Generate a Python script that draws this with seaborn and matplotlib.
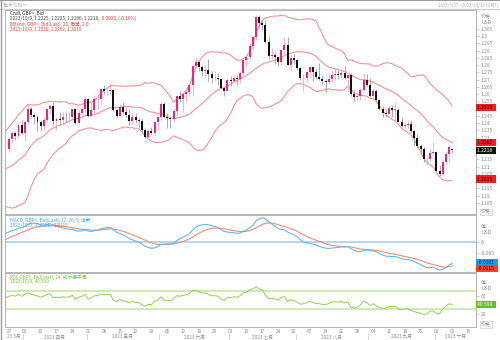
import numpy as np
import pandas as pd
import matplotlib
matplotlib.use("Agg")
import matplotlib.pyplot as plt
import matplotlib.transforms as mtransforms
from matplotlib.lines import Line2D
from matplotlib.patches import Rectangle
import seaborn as sns

# ---------------- data ----------------
# closes before the visible window (Jan 2 - Mar 24 2023), used only to warm up the indicators
warmup_closes = [
    1.2055, 1.1965, 1.2055, 1.1935, 1.2090,
    1.2180, 1.2155, 1.2150, 1.2215, 1.2230,
    1.2205, 1.2280, 1.2350, 1.2390, 1.2395,
    1.2365, 1.2325, 1.2410, 1.2400, 1.2395,
    1.2375, 1.2320, 1.2415, 1.2235, 1.2050,
    1.2025, 1.2045, 1.2065, 1.2120, 1.2110,
    1.2135, 1.2175, 1.2035, 1.1990, 1.2035,
    1.2045, 1.2110, 1.2045, 1.1985, 1.1945,
    1.2065, 1.2095, 1.2020, 1.1945, 1.2035,
    1.2015, 1.1825, 1.1840, 1.1940, 1.2030,
    1.2175, 1.2155, 1.2055, 1.2105, 1.2175,
    1.2225, 1.2235, 1.2275, 1.2280, 1.2230,
]

# visible daily candles, Mar 27 - Oct 9 2023 (one row per week)
opens = [
    1.2225, 1.2290, 1.2330, 1.2310, 1.2390,
    1.2335, 1.2410, 1.2500, 1.2455, 1.2440,
    1.2410, 1.2380, 1.2425, 1.2495, 1.2520,
    1.2415, 1.2430, 1.2425, 1.2445, 1.2440,
    1.2445, 1.2495, 1.2405, 1.2470, 1.2495,
    1.2570, 1.2450, 1.2490, 1.2565, 1.2570,
    1.2635, 1.2620, 1.2625, 1.2630, 1.2490,
    1.2450, 1.2510, 1.2480, 1.2455, 1.2415,
    1.2445, 1.2420, 1.2415, 1.2350, 1.2305,
    1.2345, 1.2335, 1.2410, 1.2440, 1.2535,
    1.2445, 1.2435, 1.2430, 1.2485, 1.2585,
    1.2570, 1.2605, 1.2615, 1.2665, 1.2795,
    1.2820, 1.2785, 1.2760, 1.2765, 1.2740,
    1.2710, 1.2715, 1.2705, 1.2640, 1.2620,
    1.2700, 1.2690, 1.2715, 1.2705, 1.2745,
    1.2835, 1.2860, 1.2935, 1.2995, 1.3135,
    1.3090, 1.3075, 1.2960, 1.2865, 1.2870,
    1.2855, 1.2825, 1.2905, 1.2940, 1.2805,
    1.2850, 1.2835, 1.2780, 1.2710, 1.2715,
    1.2750, 1.2785, 1.2750, 1.2720, 1.2705,
    1.2690, 1.2685, 1.2705, 1.2735, 1.2740,
    1.2735, 1.2745, 1.2715, 1.2730, 1.2605,
    1.2580, 1.2590, 1.2630, 1.2700, 1.2665,
    1.2585, 1.2625, 1.2560, 1.2500, 1.2470,
    1.2465, 1.2505, 1.2490, 1.2490, 1.2410,
    1.2380, 1.2390, 1.2395, 1.2345, 1.2295,
    1.2240, 1.2225, 1.2150, 1.2155, 1.2195,
    1.2200, 1.2070, 1.2050, 1.2130, 1.2190,
    1.2225,
]
highs = [
    1.2305, 1.2345, 1.2345, 1.2395, 1.2425,
    1.2420, 1.2525, 1.2510, 1.2470, 1.2455,
    1.2420, 1.2440, 1.2500, 1.2525, 1.2545,
    1.2440, 1.2475, 1.2475, 1.2475, 1.2475,
    1.2500, 1.2500, 1.2495, 1.2510, 1.2585,
    1.2575, 1.2545, 1.2595, 1.2600, 1.2645,
    1.2665, 1.2650, 1.2680, 1.2635, 1.2500,
    1.2530, 1.2545, 1.2505, 1.2495, 1.2470,
    1.2470, 1.2445, 1.2435, 1.2365, 1.2370,
    1.2375, 1.2415, 1.2445, 1.2545, 1.2545,
    1.2470, 1.2445, 1.2495, 1.2590, 1.2625,
    1.2610, 1.2640, 1.2675, 1.2800, 1.2850,
    1.2830, 1.2800, 1.2800, 1.2845, 1.2760,
    1.2760, 1.2745, 1.2710, 1.2660, 1.2710,
    1.2725, 1.2730, 1.2740, 1.2760, 1.2850,
    1.2875, 1.2950, 1.3000, 1.3145, 1.3145,
    1.3115, 1.3115, 1.3005, 1.2920, 1.2890,
    1.2860, 1.2915, 1.2995, 1.2995, 1.2875,
    1.2875, 1.2840, 1.2790, 1.2740, 1.2760,
    1.2790, 1.2790, 1.2775, 1.2815, 1.2730,
    1.2705, 1.2735, 1.2765, 1.2785, 1.2765,
    1.2760, 1.2795, 1.2730, 1.2745, 1.2630,
    1.2610, 1.2640, 1.2745, 1.2740, 1.2710,
    1.2645, 1.2635, 1.2570, 1.2520, 1.2495,
    1.2525, 1.2525, 1.2545, 1.2505, 1.2440,
    1.2405, 1.2425, 1.2425, 1.2350, 1.2325,
    1.2255, 1.2235, 1.2170, 1.2225, 1.2270,
    1.2210, 1.2110, 1.2150, 1.2210, 1.2260,
    1.2225,
]
lows = [
    1.2205, 1.2265, 1.2285, 1.2300, 1.2325,
    1.2275, 1.2395, 1.2440, 1.2395, 1.2345,
    1.2345, 1.2355, 1.2410, 1.2465, 1.2385,
    1.2350, 1.2385, 1.2390, 1.2410, 1.2400,
    1.2420, 1.2395, 1.2395, 1.2435, 1.2475,
    1.2440, 1.2450, 1.2465, 1.2500, 1.2530,
    1.2605, 1.2595, 1.2600, 1.2485, 1.2445,
    1.2440, 1.2465, 1.2440, 1.2390, 1.2395,
    1.2405, 1.2375, 1.2335, 1.2300, 1.2295,
    1.2325, 1.2310, 1.2350, 1.2425, 1.2435,
    1.2370, 1.2370, 1.2410, 1.2440, 1.2545,
    1.2480, 1.2545, 1.2590, 1.2590, 1.2780,
    1.2760, 1.2725, 1.2710, 1.2690, 1.2680,
    1.2690, 1.2665, 1.2635, 1.2590, 1.2620,
    1.2655, 1.2685, 1.2665, 1.2675, 1.2730,
    1.2790, 1.2840, 1.2905, 1.2975, 1.3060,
    1.3045, 1.2955, 1.2845, 1.2840, 1.2810,
    1.2795, 1.2805, 1.2870, 1.2800, 1.2760,
    1.2810, 1.2770, 1.2700, 1.2620, 1.2690,
    1.2720, 1.2690, 1.2705, 1.2695, 1.2665,
    1.2615, 1.2670, 1.2685, 1.2700, 1.2705,
    1.2705, 1.2705, 1.2615, 1.2590, 1.2550,
    1.2560, 1.2560, 1.2620, 1.2655, 1.2580,
    1.2580, 1.2545, 1.2490, 1.2445, 1.2445,
    1.2465, 1.2445, 1.2425, 1.2410, 1.2375,
    1.2365, 1.2365, 1.2335, 1.2240, 1.2230,
    1.2190, 1.2135, 1.2110, 1.2140, 1.2190,
    1.2070, 1.2035, 1.2035, 1.2120, 1.2125,
    1.2196,
]
closes = [
    1.2290, 1.2330, 1.2310, 1.2390, 1.2335,
    1.2410, 1.2500, 1.2455, 1.2440, 1.2410,
    1.2380, 1.2425, 1.2495, 1.2520, 1.2415,
    1.2430, 1.2425, 1.2445, 1.2440, 1.2445,
    1.2495, 1.2405, 1.2470, 1.2495, 1.2570,
    1.2450, 1.2490, 1.2565, 1.2570, 1.2635,
    1.2620, 1.2625, 1.2630, 1.2490, 1.2450,
    1.2510, 1.2480, 1.2455, 1.2415, 1.2445,
    1.2420, 1.2415, 1.2350, 1.2305, 1.2345,
    1.2335, 1.2410, 1.2440, 1.2535, 1.2445,
    1.2435, 1.2430, 1.2485, 1.2585, 1.2570,
    1.2605, 1.2615, 1.2665, 1.2795, 1.2820,
    1.2785, 1.2760, 1.2765, 1.2740, 1.2710,
    1.2715, 1.2705, 1.2640, 1.2620, 1.2700,
    1.2690, 1.2715, 1.2705, 1.2745, 1.2835,
    1.2860, 1.2935, 1.2995, 1.3135, 1.3090,
    1.3075, 1.2960, 1.2865, 1.2870, 1.2855,
    1.2825, 1.2905, 1.2940, 1.2805, 1.2850,
    1.2835, 1.2780, 1.2710, 1.2715, 1.2750,
    1.2785, 1.2750, 1.2720, 1.2705, 1.2690,
    1.2685, 1.2705, 1.2735, 1.2740, 1.2735,
    1.2745, 1.2715, 1.2730, 1.2605, 1.2580,
    1.2590, 1.2630, 1.2700, 1.2665, 1.2585,
    1.2625, 1.2560, 1.2500, 1.2470, 1.2465,
    1.2505, 1.2490, 1.2495, 1.2410, 1.2380,
    1.2390, 1.2395, 1.2345, 1.2295, 1.2240,
    1.2225, 1.2150, 1.2155, 1.2195, 1.2200,
    1.2070, 1.2050, 1.2130, 1.2190, 1.2238,
    1.2218,
]

# price tick labels shown on the right (those hidden behind value boxes are left out)
price_ticks = [1.185, 1.19, 1.195, 1.205, 1.21, 1.215, 1.23,
               1.235, 1.24, 1.245, 1.255, 1.26, 1.265, 1.27, 1.275, 1.28,
               1.285, 1.29, 1.295, 1.3, 1.305]
macd_ticks = [-0.005, 0]
rsi_ticks = [20, 60]
rsi_levels = [70, 30]
week_labels = ["27", "03", "10", "17", "24", "01", "08", "15", "22", "29",
               "05", "12", "19", "26", "03", "10", "17", "24", "31", "07",
               "14", "21", "28", "04", "11", "18", "25", "02", "09", "16"]
month_labels = ["23 3月", "2023 四月", "2023 五月", "2023 六月",
                "2023 七月", "2023 八月", "2023 九月", "2023 十月"]
band_last = [1.2510, 1.2262, 1.2015]
band_last_txt = ["1.2510", "1.2262", "1.2015"]
close_last_txt = "1.2218"
macd_last = [-0.0101, -0.0115]
macd_last_txt = ["-0.0101", "-0.0115"]
rsi_last = 40.599
rsi_last_txt = "40.599"

# ---------------- indicators ----------------
all_close = pd.Series(warmup_closes + closes)
n_w = len(warmup_closes)
mid = all_close.rolling(20).mean()
sd = all_close.rolling(20).std(ddof=0)
ema12 = all_close.ewm(span=12, adjust=False).mean()
ema26 = all_close.ewm(span=26, adjust=False).mean()
macd = ema12 - ema26
signal = macd.ewm(span=9, adjust=False).mean()
delta = all_close.diff()
ag = delta.clip(lower=0).ewm(alpha=1 / 14, adjust=False).mean()
al = (-delta).clip(lower=0).ewm(alpha=1 / 14, adjust=False).mean()
rsi = 100 - 100 / (1 + ag / al)
ind = pd.DataFrame({
    "x": np.arange(len(all_close)) - n_w,
    "upper": mid + 2 * sd, "mid": mid, "lower": mid - 2 * sd,
    "macd": macd, "signal": signal, "rsi": rsi,
})
ind = ind[ind["x"] >= -2]

# ---------------- figure ----------------
sns.set_theme(style="white")
plt.rcParams["font.family"] = ["Noto Sans CJK SC", "DejaVu Sans"]
plt.rcParams["axes.unicode_minus"] = False

W, H = 500, 340
fig = plt.figure(figsize=(5, 3.4), dpi=100)
fig.patch.set_facecolor("white")


def fx(x):
    return x / W


def fy(y):
    return 1 - y / H


def add_axes(x0, y0, x1, y1):
    return fig.add_axes([fx(x0), fy(y1), fx(x1) - fx(x0), fy(y0) - fy(y1)])


ax = add_axes(5, 10, 476, 214)
axm = add_axes(5, 215, 476, 272)
axr = add_axes(5, 273, 476, 327)

XMIN, XMAX = -1.26, 147.5
LBL = "#8a8a8a"
FS = 3.6

for a in (ax, axm, axr):
    a.set_xlim(XMIN, XMAX)
    a.set_facecolor("white")
    for s in a.spines.values():
        s.set_color("#b4b4b4")
        s.set_linewidth(0.7)
    a.yaxis.tick_right()
    a.tick_params(axis="y", which="both", right=True, left=False, length=2,
                  width=0.4, color="#aaaaaa", labelsize=FS, labelcolor=LBL, pad=1.5)
    a.tick_params(axis="x", bottom=False, labelbottom=False)

# ---- main: candles + bollinger ----
BAND = "#f58c8c"
for col in ("upper", "mid", "lower"):
    sns.lineplot(x=ind["x"].values, y=ind[col].values, ax=ax, color=BAND,
                 lw=0.75, legend=False, zorder=1)

x = np.arange(len(closes))
o, h, l, c = map(np.array, (opens, highs, lows, closes))
is_up = c >= o
PINK, PINK_W = "#f5207f", "#f7a3c6"
BLK, BLK_W = "#101010", "#9c9c9c"
ax.vlines(x, l, h, colors=np.where(is_up, PINK_W, BLK_W), lw=0.6, zorder=2)
ax.bar(x, np.maximum(np.abs(c - o), 0.0004), bottom=np.minimum(o, c), width=0.62,
       color=np.where(is_up, PINK, BLK), linewidth=0, zorder=3)
ax.set_ylim(1.1774, 1.3181)
ax.set_yticks(price_ticks)
ax.set_yticklabels([f"{v:g}" for v in price_ticks])

# ---- MACD ----
axm.axhline(0, color="#a9d4f6", lw=1.3, zorder=1)
sns.lineplot(x=ind["x"].values, y=ind["signal"].values, ax=axm, color="#f3866f",
             lw=0.75, legend=False, zorder=2)
sns.lineplot(x=ind["x"].values, y=ind["macd"].values, ax=axm, color="#55b5f5",
             lw=0.75, legend=False, zorder=3)
axm.set_ylim(-0.0145, 0.0135)
axm.set_yticks(macd_ticks)
axm.set_yticklabels([f"{v:g}" for v in macd_ticks])

# ---- RSI ----
for lv in rsi_levels:
    axr.axhline(lv, color="#bfe6a0", lw=1.1, zorder=1)
sns.lineplot(x=ind["x"].values, y=ind["rsi"].values, ax=axr, color="#8fd24e",
             lw=0.7, legend=False, zorder=2)
axr.set_ylim(-9, 111)
axr.set_yticks(rsi_ticks)
axr.set_yticklabels([f"{v:g}" for v in rsi_ticks])

for a in (ax, axm, axr):
    a.set_xlabel("")
    a.set_ylabel("")

# ---- x axis (weeks + months) ----
axis_dates = pd.bdate_range("2023-03-27", periods=int(XMAX) + 1)
mondays = [i for i, d in enumerate(axis_dates) if d.weekday() == 0]
axr.set_xticks(mondays)
axr.set_xticklabels(week_labels[:len(mondays)])
axr.tick_params(axis="x", bottom=True, labelbottom=True, length=0, pad=1.2,
                labelsize=3.4, labelcolor=LBL)

month_starts = [i for i in range(1, len(axis_dates))
                if axis_dates[i].month != axis_dates[i - 1].month]
edges = [XMIN] + [s - 0.5 for s in month_starts] + [XMAX]
bt = mtransforms.blended_transform_factory(axr.transData, fig.transFigure)
for k, lab in enumerate(month_labels):
    cx = (edges[k] + edges[k + 1]) / 2
    fig.text(cx, fy(336.8), lab, transform=bt, ha="center", va="center",
             fontsize=3.4, color=LBL)
for s in month_starts:
    fig.add_artist(Line2D([s - 0.5, s - 0.5], [fy(333.5), fy(340)], transform=bt,
                          color="#c4c4c4", lw=0.5))

# ---- header texts ----
TFS = 3.4
fig.text(fx(10), fy(13.3), "Cndl, GBP=, Bid", fontsize=TFS, color="#333333", va="center")
t2 = fig.text(fx(10), fy(18.6), "2023/10/9, 1.2225, 1.2225, 1.2196, 1.2218, ",
              fontsize=TFS, color="#444444", va="center")
fig.add_artist(plt.Annotation("-0.0020, (-0.16%)", xy=(1, 0.5), xycoords=t2,
                              va="center", ha="left", fontsize=TFS, color="#f03a3a"))
fig.text(fx(10), fy(24), "BBand, GBP=, Bid(Last), 20, 简单, 2.0", fontsize=TFS,
         color="#f04040", va="center")
fig.text(fx(10), fy(29.3), "2023/10/9, " + ", ".join(band_last_txt), fontsize=TFS,
         color="#f04040", va="center")

fig.text(fx(10), fy(220), "MACD, GBP=, Bid(Last), 12, 26, 9, 指数", fontsize=TFS,
         color="#3fa3ef", va="center")
tm = fig.text(fx(10), fy(225.2), "2023/10/9, " + macd_last_txt[0] + ", ",
              fontsize=TFS, color="#3fa3ef", va="center")
fig.add_artist(plt.Annotation(macd_last_txt[1], xy=(1, 0.5), xycoords=tm, va="center",
                              ha="left", fontsize=TFS, color="#f05a3a"))

fig.text(fx(10), fy(276.8), "RSI, GBP=, Bid(Last), 14, 威尔德平滑", fontsize=TFS,
         color="#72c22c", va="center")
fig.text(fx(10), fy(281.9), "2023/10/9, " + rsi_last_txt, fontsize=TFS,
         color="#72c22c", va="center")

# ---- right-side labels ----
for txt, yy in (("价格", 17), ("USD", 23), ("值", 226), ("USD", 232), ("值", 283), ("USD", 289)):
    fig.text(fx(481), fy(yy), txt, fontsize=FS, color=LBL, va="center", ha="left")
for yy in (212, 324.5):
    fig.text(fx(481), fy(yy), "价格", fontsize=FS, color=LBL, va="center", ha="left",
             bbox=dict(boxstyle="square,pad=0.15", fc="white", ec="#c0c0c0", lw=0.4))


def value_box(axis, v, text, fc, tc, dy=0.0):
    tr = mtransforms.blended_transform_factory(axis.transAxes, axis.transData)
    axis.annotate(text + "  ", xy=(1.003, v), xycoords=tr, xytext=(0, dy),
                  textcoords="offset points", fontsize=FS, color=tc, va="center",
                  ha="left", annotation_clip=False, zorder=10,
                  bbox=dict(boxstyle="square,pad=0.22", fc=fc, ec="none"))


RED = "#f41c1c"
value_box(ax, band_last[0], band_last_txt[0], RED, "#3a0000")
value_box(ax, band_last[1], band_last_txt[1], RED, "#3a0000", dy=0.6)
value_box(ax, closes[-1], close_last_txt, "#111111", "white", dy=-0.6)
value_box(ax, band_last[2], band_last_txt[2], RED, "#3a0000")
value_box(axm, macd_last[0], macd_last_txt[0], "#1e9cf5", "#082848", dy=0.5)
value_box(axm, macd_last[1], macd_last_txt[1], "#f5431e", "#3a0800", dy=-1.6)
value_box(axr, rsi_last, rsi_last_txt, "#62c21c", "white")

# ---- window chrome ----
fig.add_artist(Rectangle((0, fy(1.3)), 1, fy(0) - fy(1.3), transform=fig.transFigure,
                         color="#9a9a9a", lw=0))
fig.add_artist(Line2D([0, 1], [fy(8.6), fy(8.6)], transform=fig.transFigure,
                      color="#c8c8c8", lw=0.8))
fig.add_artist(Line2D([fx(1), fx(1)], [0, 1], transform=fig.transFigure,
                      color="#9a9a9a", lw=1.0))
fig.text(fx(3), fy(4.8), "每天 GBP=", fontsize=FS, color="#b0b0b0", va="center")
fig.text(fx(498), fy(4.8), "2023/3/27 - 2023/10/16 (GMT)", fontsize=3.2,
         color="#b0b0b0", va="center", ha="right")

fig.savefig("out.png", dpi=100)
